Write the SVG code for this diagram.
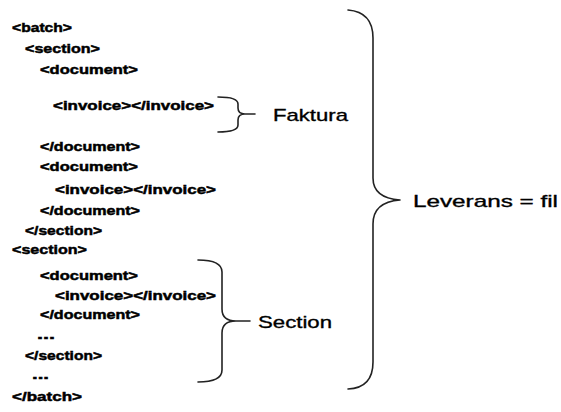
<svg xmlns="http://www.w3.org/2000/svg" width="561" height="412" viewBox="0 0 561 412">
  <style>
    .tag { font-family: "Liberation Sans", Arial, sans-serif; font-weight: bold; font-size: 13.5px; fill: #000; stroke: #000; stroke-width: 0.5; }
    .lbl { font-family: "Liberation Sans", Arial, sans-serif; font-size: 17px; fill: #000; stroke: #000; stroke-width: 0.35; }
    .brace { fill: none; stroke: #222; stroke-width: 1.6; stroke-linecap: round; }
  </style>
  <rect width="561" height="412" fill="#fff"/>
  <g id="xml-listing">
    <text class="tag" x="12" y="32" textLength="60" lengthAdjust="spacingAndGlyphs">&lt;batch&gt;</text>
    <text class="tag" x="25" y="53" textLength="75" lengthAdjust="spacingAndGlyphs">&lt;section&gt;</text>
    <text class="tag" x="40" y="74" textLength="98" lengthAdjust="spacingAndGlyphs">&lt;document&gt;</text>
    <text class="tag" x="53" y="110" textLength="161" lengthAdjust="spacingAndGlyphs">&lt;invoice&gt;&lt;/invoice&gt;</text>
    <text class="tag" x="40" y="151" textLength="100" lengthAdjust="spacingAndGlyphs">&lt;/document&gt;</text>
    <text class="tag" x="40" y="171" textLength="98" lengthAdjust="spacingAndGlyphs">&lt;document&gt;</text>
    <text class="tag" x="55" y="194" textLength="161" lengthAdjust="spacingAndGlyphs">&lt;invoice&gt;&lt;/invoice&gt;</text>
    <text class="tag" x="40" y="215" textLength="100" lengthAdjust="spacingAndGlyphs">&lt;/document&gt;</text>
    <text class="tag" x="25" y="235" textLength="77" lengthAdjust="spacingAndGlyphs">&lt;/section&gt;</text>
    <text class="tag" x="12" y="254" textLength="75" lengthAdjust="spacingAndGlyphs">&lt;section&gt;</text>
    <text class="tag" x="40" y="280" textLength="98" lengthAdjust="spacingAndGlyphs">&lt;document&gt;</text>
    <text class="tag" x="55" y="300" textLength="161" lengthAdjust="spacingAndGlyphs">&lt;invoice&gt;&lt;/invoice&gt;</text>
    <text class="tag" x="40" y="319" textLength="100" lengthAdjust="spacingAndGlyphs">&lt;/document&gt;</text>
    <text class="tag" x="37" y="339" textLength="18" lengthAdjust="spacingAndGlyphs">...</text>
    <text class="tag" x="25" y="360" textLength="77" lengthAdjust="spacingAndGlyphs">&lt;/section&gt;</text>
    <text class="tag" x="32" y="379" textLength="17" lengthAdjust="spacingAndGlyphs">...</text>
    <text class="tag" x="12" y="401" textLength="70" lengthAdjust="spacingAndGlyphs">&lt;/batch&gt;</text>
  </g>
  <g id="faktura">
    <path class="brace" d="M218,97 Q238,97 238,104 L238,108 Q238,114 245,114 L255,114 M245,114 Q238,114 238,120 L238,125 Q238,132 218,132"/>
    <text class="lbl" x="273" y="121" textLength="75" lengthAdjust="spacingAndGlyphs">Faktura</text>
  </g>
  <g id="section">
    <path class="brace" d="M198,260 Q222,260 222,272 L222,309 Q222,321 236,321 L250,321 M236,321 Q222,321 222,333 L222,370 Q222,382 198,382"/>
    <text class="lbl" x="258" y="328" textLength="74" lengthAdjust="spacingAndGlyphs">Section</text>
  </g>
  <g id="leverans">
    <path class="brace" stroke-width="2" d="M348,10 Q373,12 373,38 L373,178 Q373,198 400,200 M400,200 Q373,202 373,224 L373,362 Q373,388 348,389"/>
    <text class="lbl" x="413" y="207" textLength="145" lengthAdjust="spacingAndGlyphs">Leverans = fil</text>
  </g>
</svg>
